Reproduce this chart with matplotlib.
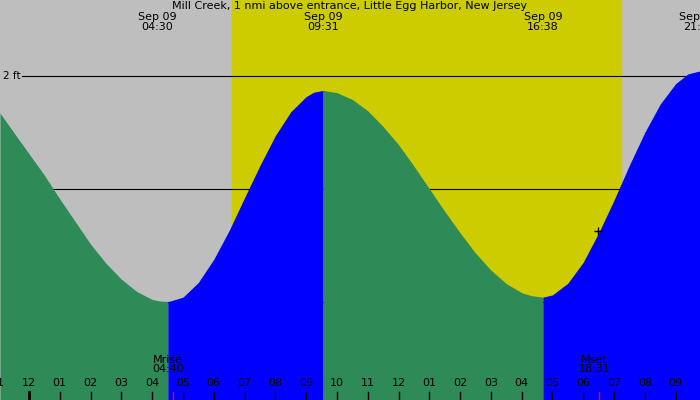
import matplotlib
matplotlib.use("Agg")
import matplotlib.pyplot as plt
import numpy as np

title = "Mill Creek, 1 nmi above entrance, Little Egg Harbor, New Jersey"
# hours since midnight Sep 09, tide height in ft
times = [-0.94, -0.5, 0, 0.5, 1, 1.5, 2, 2.5, 3, 3.5, 4, 4.25, 4.51,
         5, 5.5, 6, 6.5, 7, 7.5, 8, 8.5, 9, 9.25, 9.55,
         10, 10.5, 11, 11.5, 12, 12.5, 13, 13.5, 14, 14.5, 15, 15.5, 16, 16.3, 16.69,
         17, 17.5, 18, 18.5, 19, 19.5, 20, 20.5, 21, 21.4, 21.75, 21.8]
heights = [1.67, 1.50, 1.31, 1.12, 0.91, 0.71, 0.51, 0.34, 0.20, 0.09, 0.02, 0.006, 0.0,
           0.04, 0.17, 0.375, 0.63, 0.92, 1.205, 1.47, 1.68, 1.815, 1.854, 1.87,
           1.85, 1.79, 1.69, 1.55, 1.39, 1.20, 1.00, 0.80, 0.61, 0.43, 0.28, 0.16, 0.08, 0.054, 0.04,
           0.06, 0.164, 0.35, 0.61, 0.90, 1.21, 1.50, 1.75, 1.93, 2.016, 2.04, 2.04]
extreme_times = [4.51, 9.55, 16.69, 21.75]
extreme_labels = ["Sep 09\n04:30", "Sep 09\n09:31", "Sep 09\n16:38", "Sep 09\n21:45"]
sunrise, sunset = 6.59, 19.22
moon_times = [4.67, 18.52]
moon_labels = ["Mrise\n04:40", "Mset\n18:31"]
tick_hours = list(range(-1, 22))
tick_labels = ["11", "12", "01", "02", "03", "04", "05", "06", "07", "08", "09", "10", "11",
               "12", "01", "02", "03", "04", "05", "06", "07", "08", "09"]
levels = [0, 1, 2]
level_labels = ["0 ft", "1 ft", "2 ft"]

fig = plt.figure(figsize=(7, 4), dpi=100, facecolor="#bebebe")
ax = fig.add_axes([0, 0, 1, 1])
x0, x1 = -0.94, 21.79
ax.set_xlim(x0, x1)
ax.set_ylim(-0.87, 2.67)
ax.axis("off")
ax.axvspan(sunrise, sunset, color="#cccc00", zorder=0)

for lv, lb in zip(levels, level_labels):
    ax.plot([-0.23, x1], [lv, lv], color="black", lw=0.8, zorder=1)
    ax.text(x0 + 0.1, lv, lb, fontsize=7.5, va="center", ha="left", zorder=1)

t = np.array(times); h = np.array(heights)
bounds = [times[0]] + extreme_times[:-1] + [times[-1]]
for i in range(len(bounds) - 1):
    m = (t >= bounds[i]) & (t <= bounds[i + 1])
    rising = h[m][-1] > h[m][0]
    ax.fill_between(t[m], -1, h[m], color="#0000ff" if rising else "#2e8b57", lw=0, zorder=2)

ax.text(10.4, 2.665, title, fontsize=8, ha="center", va="top", zorder=5)
for et, el in zip(extreme_times, extreme_labels):
    ax.text(et - 0.35 if et < 6 else et, 2.56, el, fontsize=8, ha="center", va="top",
            linespacing=0.95, zorder=5)
for mt, ml in zip(moon_times, moon_labels):
    ax.text(mt - 0.15, -0.47, ml, fontsize=8, ha="center", va="top", linespacing=0.95, zorder=5)
    ax.plot([mt, mt], [-0.87, -0.80], color="red", lw=1, zorder=5)
for th, tl in zip(tick_hours, tick_labels):
    ax.text(th, -0.72, tl, fontsize=8, ha="center", va="center", zorder=5)
    ax.plot([th, th], [-0.87, -0.80], color="black", lw=2 if th == 0 else 1, zorder=5)
ax.plot([18.47], [0.63], marker="+", color="black", ms=6, mew=1, zorder=6)

fig.savefig("out.png", dpi=100, facecolor="#bebebe")
